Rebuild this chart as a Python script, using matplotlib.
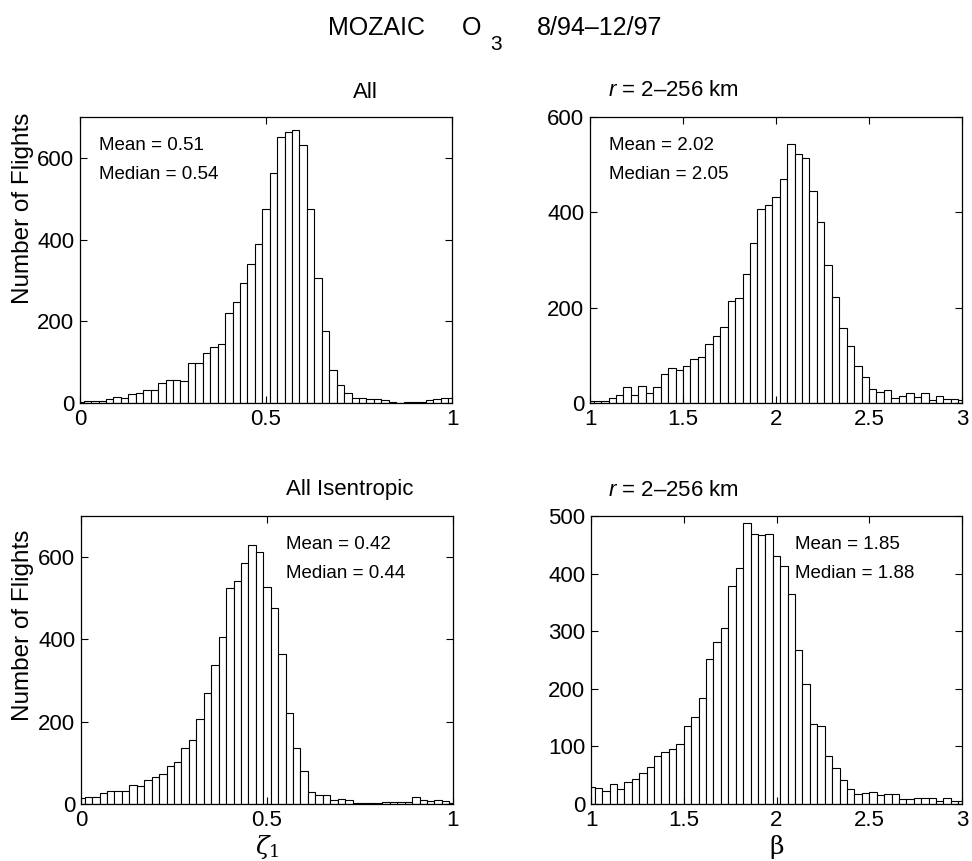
import matplotlib
matplotlib.use('Agg')
import matplotlib.pyplot as plt
import numpy as np

plt.rcParams['font.family'] = ['Liberation Sans', 'DejaVu Sans']
plt.rcParams['mathtext.fontset'] = 'custom'
plt.rcParams['mathtext.rm'] = 'Liberation Sans'
plt.rcParams['mathtext.it'] = 'Liberation Sans:italic'

# bin centres (MATLAB hist style, first/last bin half visible)
zeta_centers = np.arange(51) * 0.02
beta_centers = 1 + np.arange(51) * 0.04

# counts per bin
all_zeta = [3, 5, 5, 6, 11, 14, 13, 22, 24, 33, 31, 50, 57, 56, 53, 98, 99,
            122, 138, 145, 221, 246, 293, 341, 390, 474, 563, 650, 664, 668,
            632, 476, 305, 177, 80, 43, 24, 12, 12, 10, 10, 7, 3, 1, 2, 3, 2,
            8, 10, 12, 12]
all_beta = [4, 4, 5, 10, 16, 34, 16, 36, 22, 34, 61, 73, 70, 78, 92, 97, 123,
            141, 159, 213, 221, 270, 336, 406, 416, 433, 470, 544, 522, 514,
            445, 380, 289, 222, 157, 120, 78, 54, 29, 24, 27, 10, 14, 20, 13,
            21, 7, 14, 9, 9, 7]
isen_zeta = [15, 17, 17, 26, 31, 32, 32, 46, 44, 58, 65, 73, 93, 101, 136,
             156, 207, 269, 339, 406, 525, 542, 586, 629, 612, 528, 476, 364,
             222, 135, 81, 28, 22, 23, 10, 12, 9, 2, 2, 2, 2, 4, 6, 4, 5, 17,
             9, 7, 10, 7, 2]
isen_beta = [29, 28, 23, 34, 26, 38, 44, 53, 65, 84, 91, 95, 105, 136, 151,
             184, 252, 282, 305, 379, 410, 487, 469, 467, 468, 430, 413, 364,
             267, 208, 139, 136, 84, 62, 42, 26, 18, 19, 20, 16, 18, 17, 9, 9,
             10, 10, 10, 6, 11, 6, 5]

zeta_ticks = [0, 0.5, 1]
zeta_ticklabels = ['0', '0.5', '1']
beta_ticks = [1, 1.5, 2, 2.5, 3]
beta_ticklabels = ['1', '1.5', '2', '2.5', '3']

stats = [('Mean = 0.51', 'Median = 0.54'), ('Mean = 2.02', 'Median = 2.05'),
         ('Mean = 0.42', 'Median = 0.44'), ('Mean = 1.85', 'Median = 1.88')]

W, H = 972, 861
fig = plt.figure(figsize=(W / 100, H / 100), dpi=100)


def px_axes(l, t, r, b):
    return fig.add_axes([l / W, 1 - b / H, (r - l) / W, (b - t) / H])


ax_tl = px_axes(80, 117, 452, 403)
ax_tr = px_axes(590, 117, 962, 403)
ax_bl = px_axes(81, 516, 453, 804)
ax_br = px_axes(591, 516, 962, 804)

panels = [
    (ax_tl, zeta_centers, all_zeta, 0.02, (0, 1), 700, [0, 200, 400, 600],
     zeta_ticks, zeta_ticklabels, stats[0], 0.05),
    (ax_tr, beta_centers, all_beta, 0.04, (1, 3), 600, [0, 200, 400, 600],
     beta_ticks, beta_ticklabels, stats[1], 0.05),
    (ax_bl, zeta_centers, isen_zeta, 0.02, (0, 1), 700, [0, 200, 400, 600],
     zeta_ticks, zeta_ticklabels, stats[2], 0.55),
    (ax_br, beta_centers, isen_beta, 0.04, (1, 3), 500,
     [0, 100, 200, 300, 400, 500], beta_ticks, beta_ticklabels, stats[3], 0.55),
]

for ax, cen, cnt, w, xl, ytop, yt, xt, xtl, st, tx in panels:
    ax.bar(cen, cnt, width=w, color='white', edgecolor='black', linewidth=0.8)
    ax.set_xlim(*xl)
    ax.set_ylim(0, ytop)
    ax.set_xticks(xt)
    ax.set_xticklabels(xtl)
    ax.set_yticks(yt)
    ax.set_yticklabels([str(v) for v in yt])
    ax.tick_params(direction='in', top=True, right=True, length=5,
                   width=0.8, labelsize=16, pad=4)
    for s in ax.spines.values():
        s.set_linewidth(0.9)
    ax.text(tx, 0.90, st[0], transform=ax.transAxes, fontsize=13.5, va='center')
    ax.text(tx, 0.80, st[1], transform=ax.transAxes, fontsize=13.5, va='center')

ax_tl.set_ylabel('Number of Flights', fontsize=17.5)
ax_bl.set_ylabel('Number of Flights', fontsize=17.5)
ax_tl.yaxis.set_label_coords(-0.125, 0.68)
ax_bl.yaxis.set_label_coords(-0.125, 0.62)
ax_bl.set_xlabel(r'$\zeta_1$', fontsize=18, labelpad=2, math_fontfamily='dejavuserif')
ax_br.set_xlabel(r'$\mathrm{\beta}$', fontsize=18, labelpad=2, math_fontfamily='dejavuserif')

# panel titles (placed off-centre as in the original)
fig.text(365 / W, 1 - 92 / H, 'All', fontsize=16, ha='center', va='center')
fig.text(350 / W, 1 - 490 / H, 'All Isentropic', fontsize=16, ha='center', va='center')
for yy in (91, 490):
    fig.text(608 / W, 1 - yy / H, r'$r$ = 2–256 km', fontsize=16, ha='left', va='center')

# figure title
fig.text(376 / W, 1 - 28 / H, 'MOZAIC', fontsize=18, ha='center', va='center')
fig.text(462 / W, 1 - 28 / H, 'O', fontsize=18, ha='left', va='center')
fig.text(490 / W, 1 - 44 / H, '3', fontsize=15, ha='left', va='center')
fig.text(537 / W, 1 - 28 / H, '8/94–12/97', fontsize=18, ha='left', va='center')

fig.savefig('out.png', dpi=100)
